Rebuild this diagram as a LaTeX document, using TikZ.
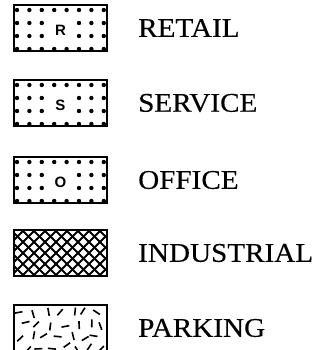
\documentclass[tikz,border=0pt]{standalone}
\usepackage{fontspec}
\setmainfont{Liberation Serif}[FakeStretch=1.08,FakeBold=0.3]
\newfontfamily\boxletter{Liberation Sans}
\begin{document}
\begin{tikzpicture}[x=1pt,y=-1pt,
  keybox/.style={draw=black, line width=2pt},
  keydot/.style={fill=black},
  keytext/.style={anchor=west, inner sep=0pt, font=\fontsize{27}{30}\selectfont},
  keyletter/.style={inner sep=0pt, font=\boxletter\bfseries\fontsize{15}{15}\selectfont}]
\useasboundingbox (0,0) rectangle (322,350);
\clip (0,0) rectangle (322,350);
% dotted boxes
\foreach \top/\ltr/\nm in {5/R/retail, 80/S/service, 157/O/office}{
  \foreach \i in {0,...,7}{
    \fill[keydot] ({17+12.4*\i},\top+5) circle (2.2);
    \fill[keydot] ({17+12.4*\i},\top+44) circle (2.2);
  }
  \foreach \i in {0,1,2,5,6,7}{
    \fill[keydot] ({17+12.4*\i},\top+18) circle (2.2);
    \fill[keydot] ({17+12.4*\i},\top+31) circle (2.2);
  }
  \node[keyletter] (\nm l) at (60.5,\top+25) {\ltr};
  \draw[keybox] (14,\top) rectangle (107,\top+46);
}
% industrial crosshatch
\begin{scope}
  \clip (14,230) rectangle (107,276);
  \foreach \k in {-66,-55,...,130}{
    \draw[line width=2pt] (\k,230) -- (\k+46,276);
    \draw[line width=2pt] (\k+46,230) -- (\k,276);
  }
\end{scope}
\draw[keybox] (14,230) rectangle (107,276);
% parking random strokes
\begin{scope}
  \clip (14,305) rectangle (107,352);
  \pgfmathsetseed{23}
  \foreach \c in {0,...,6}{
    \foreach \r in {0,...,3}{
      \pgfmathsetmacro{\px}{22+12.5*\c+rand*3.5+mod(\r,2)*5}
      \pgfmathsetmacro{\py}{314+11*\r+rand*3}
      \pgfmathsetmacro{\ang}{rnd*180}
      \draw[line width=1.6pt] ({\px-4*cos(\ang)},{\py-4*sin(\ang)}) -- ({\px+4*cos(\ang)},{\py+4*sin(\ang)});
    }
  }
\end{scope}
\draw[keybox] (14,352) -- (14,305) -- (107,305) -- (107,352);
% labels
\node[keytext] (retail) at (138,28) {RETAIL};
\node[keytext] (service) at (138,103) {SERVICE};
\node[keytext] (office) at (138,180) {OFFICE};
\node[keytext] (industrial) at (138,253) {INDUSTRIAL};
\node[keytext] (parking) at (138,328) {PARKING};
\end{tikzpicture}
\end{document}
